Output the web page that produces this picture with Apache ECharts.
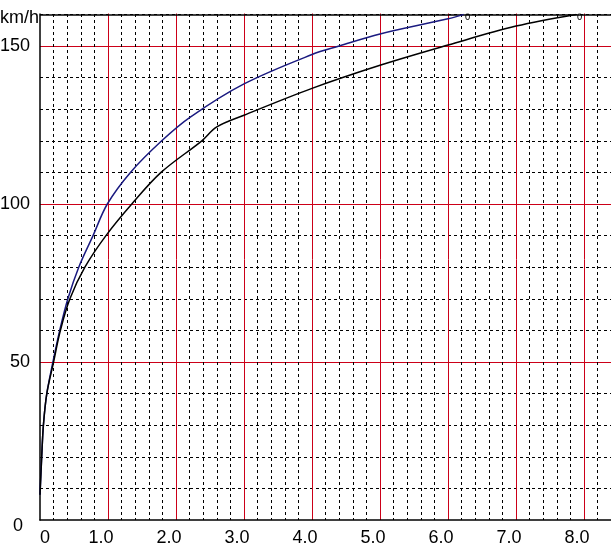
<!DOCTYPE html>
<html>
<head>
<meta charset="utf-8">
<script src="https://cdn.jsdelivr.net/npm/echarts@6/dist/echarts.min.js"></script>
<style>html,body{margin:0;padding:0;background:#fff}#c{width:611px;height:551px}</style>
</head>
<body>
<div id="c"></div>
<script>
// Blue curve (x, km/h)
var blueX = [0, 0.025, 0.05, 0.1, 0.19, 0.29, 0.41, 0.57, 0.78, 0.99, 1.33, 1.79, 2.21, 3.0, 4.0, 4.4, 5.0, 6.0, 6.23];
var blueY = [8, 20, 30, 40, 50, 60, 70, 80, 90, 100, 110, 120, 127.5, 138, 147.3, 150, 153.8, 158.6, 160];
// Black curve
var blackX = [0, 0.025, 0.05, 0.1, 0.2, 0.30, 0.44, 0.66, 0.97, 1.35, 1.78, 2.38, 2.60, 3.0, 4.0, 5.0, 6.0, 7.0, 7.88];
var blackY = [8, 20, 30, 40, 50, 60, 70, 80, 90, 100, 110, 120, 124.4, 128.1, 136.6, 143.9, 150.3, 156.3, 160];
// Tick labels
var xLabels = ['0', '1.0', '2.0', '3.0', '4.0', '5.0', '6.0', '7.0', '8.0'];
var yLabels = {0: '0', 50: '50', 100: '100', 150: '150'};
var yUnit = 'km/h';
var yTop = 160;

function pairs(xs, ys) { return xs.map(function (x, i) { return [x, ys[i]]; }); }

var FONT = "'Liberation Sans',sans-serif";
var FS = 18;
var RED = '#cc0018';
var PX_X = 68;     // px per x unit
var PX_Y = 3.16;   // px per y unit
var X0 = 40, Y0 = 520;

var chart = echarts.init(document.getElementById('c'), null, {renderer: 'canvas'});
chart.setOption({
  animation: false,
  backgroundColor: '#fff',
  title: {
    text: yUnit, left: 0, top: 9, padding: 0,
    textStyle: {fontFamily: FONT, fontSize: FS, fontWeight: 'normal', color: '#000'}, z: 20
  },
  grid: {left: X0, top: Y0 - 200 * PX_Y, width: 9 * PX_X, height: 200 * PX_Y, containLabel: false, outerBoundsMode: 'none'},
  graphic: [{
    type: 'rect', z: 10, silent: true,
    shape: {x: 0, y: 0, width: 611, height: 13.6},
    style: {fill: '#fff'}
  }],
  xAxis: [{
    type: 'value', min: 0, max: 9, interval: 1, position: 'bottom',
    axisLine: {show: true, onZero: false, lineStyle: {color: '#000', width: 1.5}},
    axisTick: {show: false},
    minorTick: {show: false, splitNumber: 5},
    splitLine: {show: true, showMinLine: false, showMaxLine: false, lineStyle: {color: RED, width: 1}},
    minorSplitLine: {show: true, lineStyle: {color: '#000', width: 1, type: [3, 3]}},
    axisLabel: {
      margin: 9, color: '#000', fontFamily: FONT, fontSize: FS,
      formatter: function (v) {
        var r = Math.round(v);
        if (r > 8) return '';
        return r === 0 ? '{z|' + xLabels[r] + '}' : '{a|' + xLabels[r] + '}';
      },
      rich: {
        a: {fontFamily: FONT, fontSize: FS, color: '#000', padding: [0, 14, 0, 0]},
        z: {fontFamily: FONT, fontSize: FS, color: '#000', padding: [0, 0, 0, 10]}
      }
    }
  }],
  yAxis: [{
    type: 'value', min: 0, max: 200, interval: 50, position: 'left',
    axisLine: {show: true, onZero: false, lineStyle: {color: '#000', width: 1.5}},
    axisTick: {show: false},
    minorTick: {show: false, splitNumber: 5},
    splitLine: {show: true, showMinLine: false, showMaxLine: false, lineStyle: {color: RED, width: 1}},
    minorSplitLine: {show: true, lineStyle: {color: '#000', width: 1, type: [3, 3]}},
    axisLabel: {
      margin: 4, color: '#000', fontFamily: FONT, fontSize: FS,
      formatter: function (v) {
        var r = Math.round(v);
        var t = yLabels[r];
        if (t === undefined) return '';
        if (r === 0) return '{z|' + t + '}';
        return '{a|' + t + '}';
      },
      rich: {
        a: {fontFamily: FONT, fontSize: FS, color: '#000', padding: [0, 6, 0, 0]},
        z: {fontFamily: FONT, fontSize: FS, color: '#000', padding: [12, 13, 0, 0]}
      }
    }
  }],
  series: [
    {
      type: 'line', data: [], z: 3, silent: true,
      markLine: {
        silent: true, symbol: 'none', animation: false,
        label: {show: false},
        lineStyle: {color: '#000', width: 1.5, type: 'solid'},
        emphasis: {disabled: true},
        data: [{yAxis: yTop}]
      }
    },
    {
      type: 'line', data: pairs(blueX, blueY),
      smooth: 0.35, showSymbol: false, z: 5,
      lineStyle: {color: '#1a1a80', width: 1.5},
      endLabel: {show: true, formatter: '0', fontSize: 9, fontFamily: 'DejaVu Sans', color: '#000', distance: 1, offset: [0, 3]}
    },
    {
      type: 'line', data: pairs(blackX, blackY),
      smooth: 0.35, showSymbol: false, z: 5,
      lineStyle: {color: '#000', width: 1.5},
      endLabel: {show: true, formatter: '0', fontSize: 9, fontFamily: 'DejaVu Sans', color: '#000', distance: 1, offset: [0, 3]}
    }
  ]
});
</script>
</body>
</html>
